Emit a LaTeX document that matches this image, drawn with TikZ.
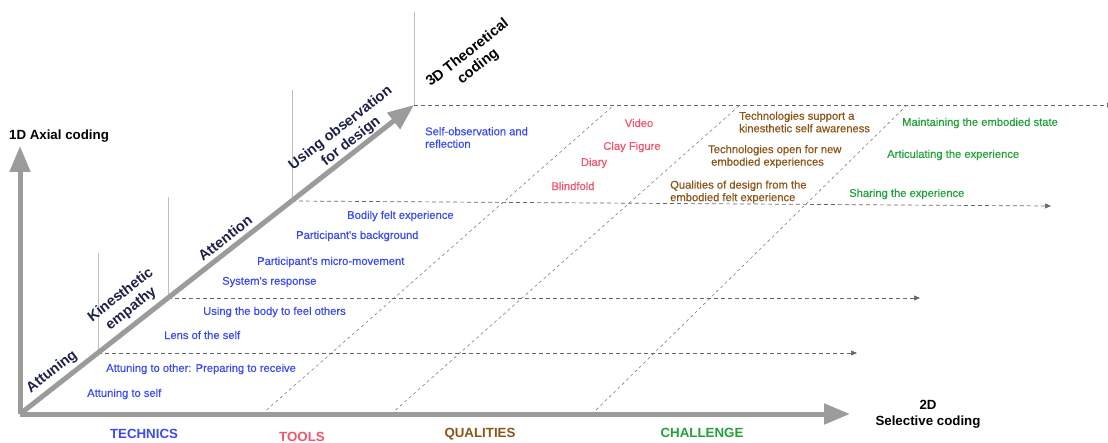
\documentclass[tikz,border=0pt]{standalone}
\usepackage{fontspec}
\setmainfont{Liberation Sans}
\newfontfamily\itemfont[FakeBold=0.5]{Liberation Sans}
\usetikzlibrary{arrows.meta}

\definecolor{techblue}{HTML}{3A4BF0}
\definecolor{toolred}{HTML}{F2556B}
\definecolor{qualbrown}{HTML}{8C5416}
\definecolor{chalgreen}{HTML}{22A03A}
\definecolor{navy}{HTML}{1C2148}
\definecolor{axisgray}{HTML}{9B9B9B}

\tikzset{
  axis/.style={draw=axisgray, line width=5pt, -{Triangle[width=20pt,length=26pt]}},
  level/.style={draw=black!60, line width=0.7pt, dash pattern=on 4pt off 3pt, -{Triangle[width=5pt,length=6pt]}},
  slant/.style={draw=black!50, line width=0.6pt, dash pattern=on 3pt off 3pt},
  tick/.style={draw=black!25, line width=0.6pt},
  item/.style={font=\itemfont\fontsize{11.2}{12.5}\selectfont, inner sep=0pt, align=left},
  dim/.style={font=\bfseries\fontsize{14.5}{17}\selectfont, text=navy, rotate=38, align=center, inner sep=0pt},
  cat/.style={font=\bfseries\fontsize{13.3}{16}\selectfont, inner sep=0pt, align=center}
}

\begin{document}
\begin{tikzpicture}[x=1pt,y=-1pt]
\useasboundingbox (0,0) rectangle (1108,443);

\coordinate (o) at (20,414);
\coordinate (xend) at (850,414);
\coordinate (yend) at (20,146);
\coordinate (zend) at (414,105);

\coordinate (d1) at (98,353);
\coordinate (d2) at (168,298);
\coordinate (d3) at (292,201);
\coordinate (t1) at (98,253);
\coordinate (t2) at (168,197);
\coordinate (t3) at (292,90);
\coordinate (t4) at (414,12);
\coordinate (e1) at (857,353);
\coordinate (e2) at (920,298);
\coordinate (e3) at (1051,206);
\coordinate (e4) at (1113,105);

\coordinate (s1) at (262,414);
\coordinate (u1) at (614,105);
\coordinate (s2) at (391,414);
\coordinate (u2) at (740,105);
\coordinate (s3) at (592,414);
\coordinate (u3) at (907,105);

\draw[tick] (d1) -- (t1);
\draw[tick] (d2) -- (t2);
\draw[tick] (d3) -- (t3);
\draw[tick] (zend) -- (t4);

\draw[slant] (s1) -- (u1);
\draw[slant] (s2) -- (u2);
\draw[slant] (s3) -- (u3);

\draw[level] (d1) -- (e1);
\draw[level] (d2) -- (e2);
\draw[level] (d3) -- (e3);
\draw[level] (zend) -- (e4);

\draw[axis] (o) -- (xend);
\draw[axis] (o) -- (yend);
\draw[axis] (o) -- (zend);

\node[dim] (attuning) at (52,372) {Attuning};
\node[dim] (empathy) at (126,302) {Kinesthetic\\empathy};
\node[dim] (attention) at (225,238) {Attention};
\node[dim] (design) at (346,135) {Using observation\\for design};
\node[dim, text=black] (theory) at (473,60) {3D Theoretical\\coding};

\node[cat] (axial) at (59,136) {1D Axial coding};
\node[cat] (selective) at (928,414) {2D\\Selective coding};

\node[cat, text=techblue] (technics) at (144,434) {TECHNICS};
\node[cat, text=toolred] (tools) at (302,437) {TOOLS};
\node[cat, text=qualbrown] (qualities) at (480,434) {QUALITIES};
\node[cat, text=chalgreen] (challenge) at (702,433) {CHALLENGE};

\node[item, text=techblue, anchor=west] (self) at (87,394) {Attuning to self};
\node[item, text=techblue, anchor=west] (other) at (106,369) {Attuning to other: Preparing to receive};
\node[item, text=techblue, anchor=west] (lens) at (164,335) {Lens of the self};
\node[item, text=techblue, anchor=west] (body) at (203,312) {Using the body to feel others};
\node[item, text=techblue, anchor=west] (response) at (222,282) {System's response};
\node[item, text=techblue, anchor=west] (micro) at (257,262) {Participant's micro-movement};
\node[item, text=techblue, anchor=west] (background) at (296,236) {Participant's background};
\node[item, text=techblue, anchor=west] (felt) at (347,216) {Bodily felt experience};
\node[item, text=techblue, anchor=west] (reflection) at (425,137.5) {Self-observation and\\reflection};

\node[item, text=toolred] (video) at (639,123) {Video};
\node[item, text=toolred] (clay) at (632,147) {Clay Figure};
\node[item, text=toolred] (diary) at (594,163) {Diary};
\node[item, text=toolred] (blindfold) at (573,186) {Blindfold};

\node[item, text=qualbrown, anchor=west] (support) at (739,122) {Technologies support a\\kinesthetic self awareness};
\node[item, text=qualbrown, anchor=west] (open) at (708,156.5) {Technologies open for new\\\hspace{3pt}embodied experiences};
\node[item, text=qualbrown, anchor=west] (quality) at (670,192) {Qualities of design from the\\embodied felt experience};

\node[item, text=chalgreen, anchor=west] (maintain) at (902,123) {Maintaining the embodied state};
\node[item, text=chalgreen, anchor=west] (articulate) at (887,155) {Articulating the experience};
\node[item, text=chalgreen, anchor=west] (share) at (849,194) {Sharing the experience};
\end{tikzpicture}
\end{document}
